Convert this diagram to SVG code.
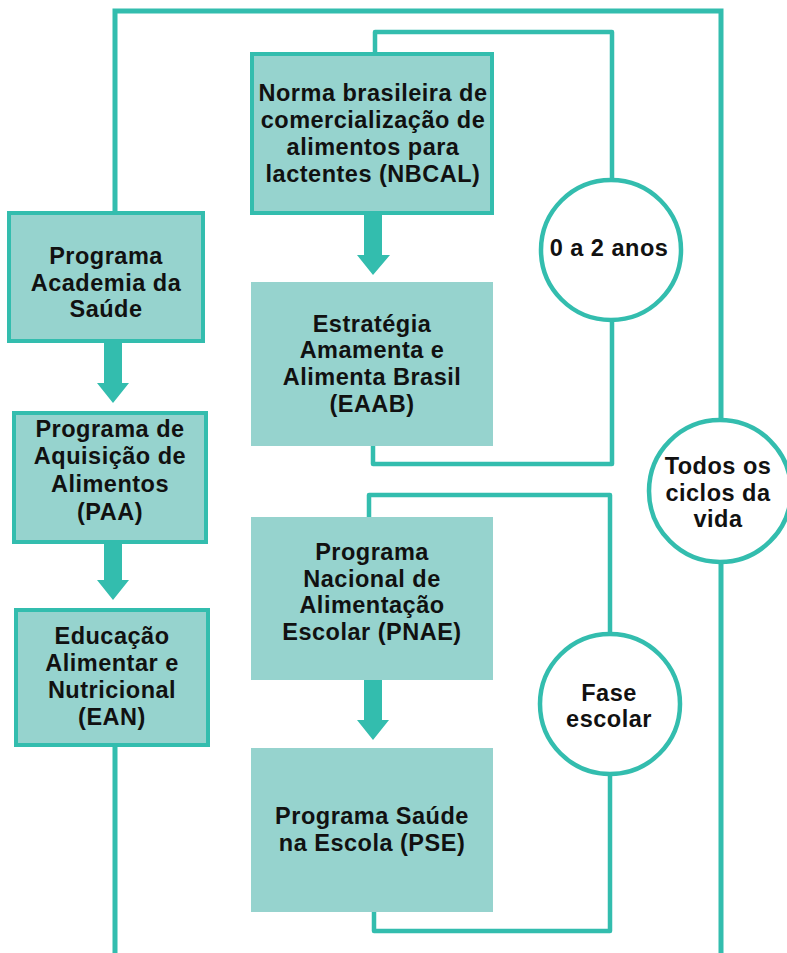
<svg xmlns="http://www.w3.org/2000/svg" width="787" height="953" viewBox="0 0 787 953">
<style>
.box{fill:#96D3CE}
.bb{fill:#96D3CE;stroke:#33BDAE;stroke-width:4}
.ln{fill:none;stroke:#33BDAE;stroke-width:4.5;stroke-linejoin:round;stroke-linecap:round}
.ol{fill:none;stroke:#33BDAE;stroke-width:5}
.cir{fill:#fff;stroke:#33BDAE;stroke-width:4.5}
.ar{fill:#33BDAE}
text{font-family:"Liberation Sans",Arial,sans-serif;font-weight:bold;font-size:23.5px;fill:#111;text-anchor:middle;letter-spacing:0.5px}
</style>
<rect width="787" height="953" fill="#fff"/>
<g id="connectors">
<path class="ol" d="M115,212 V11 H721 V420"/>
<path class="ol" d="M721,562 V953"/>
<path class="ol" d="M115,745 V953"/>
<path class="ln" d="M375,52 V32 H612 V180"/>
<path class="ln" d="M612,320 V464 H373 V446"/>
<path class="ln" d="M369,517 V495 H610 V634"/>
<path class="ln" d="M610,774 V931 H374 V912"/>
<path class="ar" d="M104,342 H122 V383 H129 L113,403 L97,383 H104 Z"/>
<path class="ar" d="M104,543 H122 V580 H129 L113,600 L97,580 H104 Z"/>
<path class="ar" d="M364,215 H382 V255 H390 L373,275 L357,255 H364 Z"/>
<path class="ar" d="M364,680 H382 V720 H389 L373,740 L357,720 H364 Z"/>
</g>
<g id="nbcal">
<rect class="bb" x="252" y="54" width="240" height="159"/>
<text x="373" y="101">Norma brasileira de</text>
<text x="373" y="128">comercialização de</text>
<text x="373" y="155">alimentos para</text>
<text x="373" y="182">lactentes (NBCAL)</text>
</g>
<g id="eaab">
<rect class="box" x="251" y="282" width="242" height="164"/>
<text x="372" y="332">Estratégia</text>
<text x="372" y="358">Amamenta e</text>
<text x="372" y="385">Alimenta Brasil</text>
<text x="372" y="412">(EAAB)</text>
</g>
<g id="pnae">
<rect class="box" x="251" y="517" width="242" height="163"/>
<text x="372" y="560">Programa</text>
<text x="372" y="587">Nacional de</text>
<text x="372" y="613">Alimentação</text>
<text x="372" y="640">Escolar (PNAE)</text>
</g>
<g id="pse">
<rect class="box" x="251" y="748" width="242" height="164"/>
<text x="372" y="824">Programa Saúde</text>
<text x="372" y="851">na Escola (PSE)</text>
</g>
<g id="academia">
<rect class="bb" x="9" y="213" width="194" height="128"/>
<text x="106" y="264">Programa</text>
<text x="106" y="291">Academia da</text>
<text x="106" y="317">Saúde</text>
</g>
<g id="paa">
<rect class="bb" x="14" y="413" width="192" height="129"/>
<text x="110" y="437">Programa de</text>
<text x="110" y="464">Aquisição de</text>
<text x="110" y="492">Alimentos</text>
<text x="110" y="520">(PAA)</text>
</g>
<g id="ean">
<rect class="bb" x="16" y="610" width="192" height="135"/>
<text x="112" y="644">Educação</text>
<text x="112" y="671">Alimentar e</text>
<text x="112" y="698">Nutricional</text>
<text x="112" y="725">(EAN)</text>
</g>
<g id="c02">
<circle class="cir" cx="611" cy="250" r="70"/>
<text x="609" y="256">0 a 2 anos</text>
</g>
<g id="fase">
<circle class="cir" cx="610" cy="704" r="70"/>
<text x="609" y="701">Fase</text>
<text x="609" y="727">escolar</text>
</g>
<g id="todos">
<circle class="cir" cx="720" cy="491" r="71"/>
<text x="718" y="474">Todos os</text>
<text x="718" y="501">ciclos da</text>
<text x="718" y="527">vida</text>
</g>
</svg>
